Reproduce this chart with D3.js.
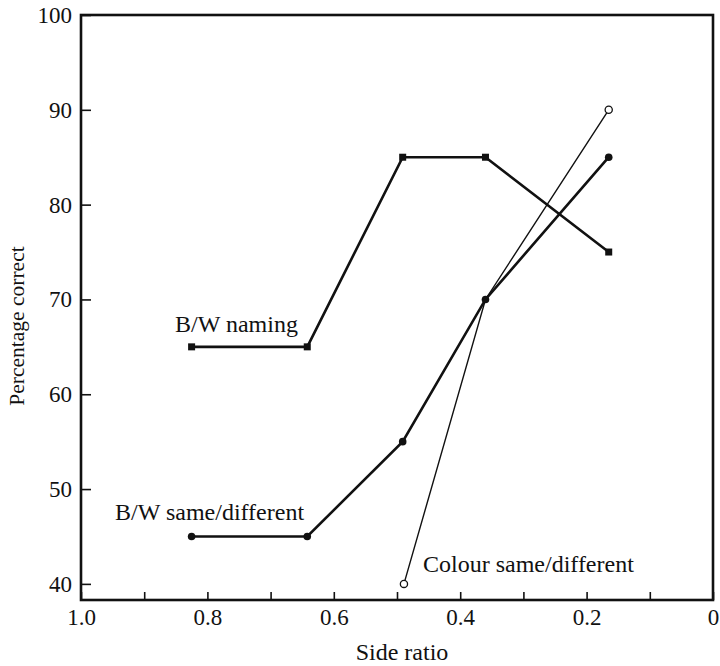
<!DOCTYPE html>
<meta charset="utf-8">
<style>
body { margin: 0; background: #fff; }
text { font-family: "Liberation Serif", "DejaVu Serif", serif; fill: #111; }
.axis .domain { display: none; }
.axis .tick line { stroke: #111; stroke-width: 1.6; }
.axis text { font-size: 23px; }
</style>
<body>
<script src="https://d3js.org/d3.v7.min.js"></script>
<script>

// side ratio on x (reversed axis), percentage correct on y
var sideRatio = [0.825, 0.642, 0.491, 0.360, 0.165];
var bwNaming = [65, 65, 85, 85, 75];
var bwSameDiff = [45, 45, 55, 70, 85];

var colourRatio = [0.489, 0.360, 0.165];
var colourSameDiff = [40, 70, 90];

var xTicks = [1.0, 0.9, 0.8, 0.7, 0.6, 0.5, 0.4, 0.3, 0.2, 0.1, 0];
var yTicks = [40, 50, 60, 70, 80, 90, 100];

var width = 720, height = 666;

var x = d3.scaleLinear()
    .domain([1.0, 0])
    .range([81, 713]);

var y = d3.scaleLinear()
    .domain([38.3, 100])
    .range([600, 15]);

var svg = d3.select("body").append("svg")
    .attr("width", width)
    .attr("height", height);

// frame round the plot
svg.append("rect")
    .attr("x", x(1.0))
    .attr("y", y(100))
    .attr("width", x(0) - x(1.0))
    .attr("height", y(38.3) - y(100))
    .attr("fill", "none")
    .attr("stroke", "#111")
    .attr("stroke-width", 2.6);

svg.append("g")
    .attr("class", "axis axis--x")
    .attr("transform", "translate(0," + y(38.3) + ")")
    .call(d3.axisBottom(x)
      .tickValues(xTicks)
      .tickSize(-8)
      .tickPadding(9)
      .tickFormat(function(d) {
        var k = Math.round(d * 10);
        if (k % 2) return "";
        return k === 0 ? "0" : d3.format(".1f")(d);
      }));

svg.append("g")
    .attr("class", "axis axis--y")
    .attr("transform", "translate(" + x(1.0) + ",0)")
    .call(d3.axisLeft(y)
      .tickValues(yTicks)
      .tickSize(-10)
      .tickPadding(9));

// axis titles
svg.append("text")
    .attr("x", 402)
    .attr("y", 660)
    .attr("text-anchor", "middle")
    .style("font-size", "24px")
    .text("Side ratio");

svg.append("text")
    .attr("transform", "translate(24,326) rotate(-90)")
    .attr("text-anchor", "middle")
    .style("font-size", "21.5px")
    .text("Percentage correct");

var line = d3.line()
    .x(function(d) { return x(d[0]); })
    .y(function(d) { return y(d[1]); });

var naming = d3.zip(sideRatio, bwNaming),
    sameDiff = d3.zip(sideRatio, bwSameDiff),
    colour = d3.zip(colourRatio, colourSameDiff);

// colour series: thin line, open circles
svg.append("path")
    .datum(colour)
    .attr("d", line)
    .attr("fill", "none")
    .attr("stroke", "#111")
    .attr("stroke-width", 1.4);

svg.append("path")
    .datum(naming)
    .attr("d", line)
    .attr("fill", "none")
    .attr("stroke", "#111")
    .attr("stroke-width", 2.6);

svg.append("path")
    .datum(sameDiff)
    .attr("d", line)
    .attr("fill", "none")
    .attr("stroke", "#111")
    .attr("stroke-width", 2.6);

svg.selectAll(".sq")
    .data(naming)
  .enter().append("rect")
    .attr("class", "sq")
    .attr("x", function(d) { return x(d[0]) - 3.5; })
    .attr("y", function(d) { return y(d[1]) - 3.5; })
    .attr("width", 7)
    .attr("height", 7)
    .attr("fill", "#111");

svg.selectAll(".dot")
    .data(sameDiff)
  .enter().append("circle")
    .attr("class", "dot")
    .attr("cx", function(d) { return x(d[0]); })
    .attr("cy", function(d) { return y(d[1]); })
    .attr("r", 3.8)
    .attr("fill", "#111");

svg.selectAll(".odot")
    .data([colour[0], colour[colour.length - 1]])
  .enter().append("circle")
    .attr("class", "odot")
    .attr("cx", function(d) { return x(d[0]); })
    .attr("cy", function(d) { return y(d[1]); })
    .attr("r", 3.6)
    .attr("fill", "#fff")
    .attr("stroke", "#111")
    .attr("stroke-width", 1.3);

// series labels
svg.append("text")
    .attr("x", 175)
    .attr("y", 332)
    .style("font-size", "24px")
    .text("B/W naming");

svg.append("text")
    .attr("x", 115)
    .attr("y", 520)
    .style("font-size", "24px")
    .text("B/W same/different");

svg.append("text")
    .attr("x", 423)
    .attr("y", 572)
    .style("font-size", "24px")
    .text("Colour same/different");

</script>
